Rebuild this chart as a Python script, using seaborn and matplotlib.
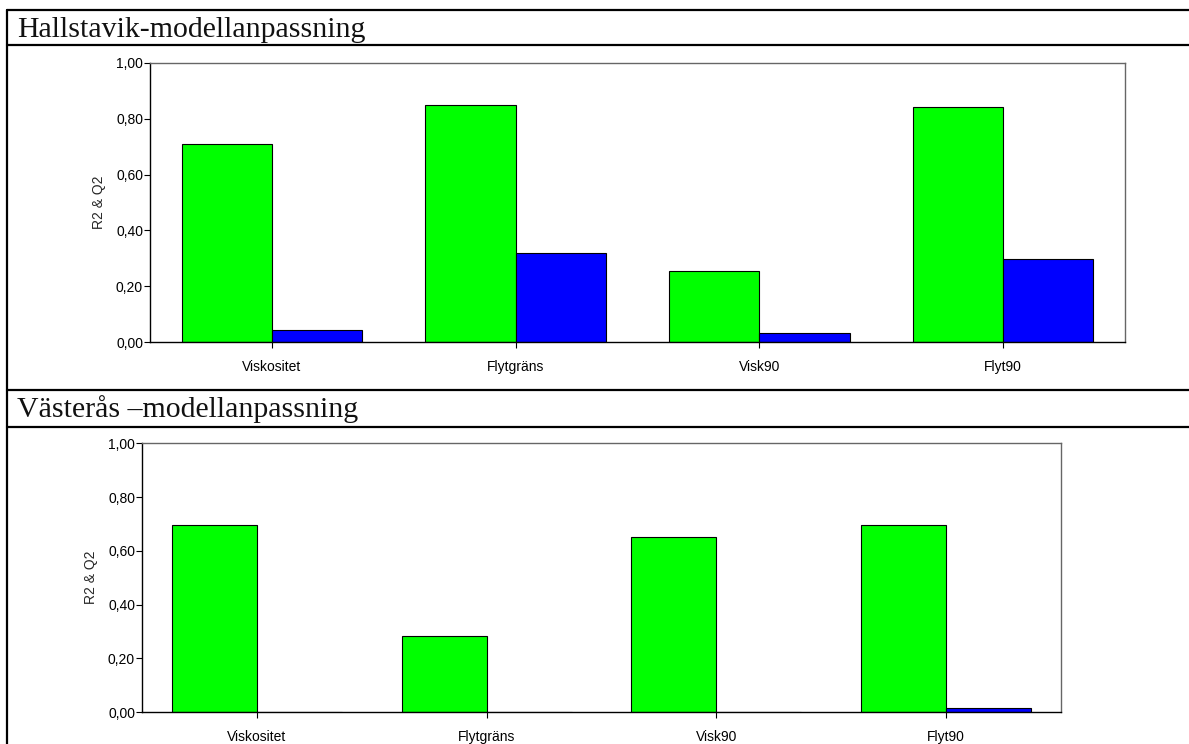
import matplotlib
matplotlib.use("Agg")
import matplotlib.pyplot as plt
from matplotlib.lines import Line2D
import pandas as pd
import seaborn as sns

# Model fit statistics (R2 = explained, Q2 = predicted) per response variable
categories = ["Viskositet", "Flytgräns", "Visk90", "Flyt90"]
series_names = ["R2", "Q2"]
hallstavik_r2 = [0.71, 0.85, 0.254, 0.841]
hallstavik_q2 = [0.043, 0.32, 0.031, 0.297]
vasteras_r2 = [0.696, 0.284, 0.652, 0.696]
vasteras_q2 = [0.0, 0.0, 0.0, 0.014]
yticks = [0.0, 0.2, 0.4, 0.6, 0.8, 1.0]
ytick_labels = ["0,00", "0,20", "0,40", "0,60", "0,80", "1,00"]
titles = ["Hallstavik-modellanpassning", "Västerås –modellanpassning"]
series_colors = {"R2": "#00ff00", "Q2": "#0000ff"}

sns.set_theme(style="white")
plt.rcParams["font.family"] = ["Liberation Sans", "DejaVu Sans"]

W, H = 1189, 744
fig = plt.figure(figsize=(W / 100, H / 100), dpi=100)
fig.patch.set_facecolor("white")


def long_frame(r2, q2):
    rows = []
    for cat, a, b in zip(categories, r2, q2):
        rows.append({"kategori": cat, "serie": series_names[0], "varde": a})
        rows.append({"kategori": cat, "serie": series_names[1], "varde": b})
    return pd.DataFrame(rows)


def px_axes(left, top, right, bottom):
    return fig.add_axes([left / W, 1 - bottom / H, (right - left) / W, (bottom - top) / H])


panels = [
    (px_axes(150, 63, 1125, 342), long_frame(hallstavik_r2, hallstavik_q2)),
    (px_axes(142, 443.3, 1061, 712), long_frame(vasteras_r2, vasteras_q2)),
]

for ax, df in panels:
    sns.barplot(data=df, x="kategori", y="varde", hue="serie", order=categories,
                hue_order=series_names, palette=series_colors, width=0.74,
                gap=0, edgecolor="black", linewidth=0.8, legend=False, ax=ax,
                errorbar=None, saturation=1)
    ax.set_xlim(-0.5, len(categories) - 0.5)
    ax.set_ylim(0, 1.0)
    ax.set_yticks(yticks)
    ax.set_yticklabels(ytick_labels, fontsize=10)
    ax.set_xlabel("")
    ax.set_ylabel("R2 & Q2", fontsize=10, labelpad=7)
    ax.tick_params(axis="x", direction="out", length=4, width=0.8, pad=9,
                   labelsize=10, colors="black", bottom=True)
    ax.tick_params(axis="y", direction="out", length=4, width=0.8, pad=1,
                   labelsize=10, colors="black", left=True)
    for side in ("left", "bottom"):
        ax.spines[side].set_color("black")
        ax.spines[side].set_linewidth(1.0)
    for side in ("top", "right"):
        ax.spines[side].set_color("#666666")
        ax.spines[side].set_linewidth(1.0)
    ax.set_facecolor("white")

# Table frame around the two panels
lw = 1.6
for y in (10, 45, 390, 427):
    fig.add_artist(Line2D([7 / W, 1.0], [1 - y / H, 1 - y / H], color="black",
                          linewidth=lw, transform=fig.transFigure))
fig.add_artist(Line2D([7 / W, 7 / W], [1 - 10 / H, 0.0], color="black",
                      linewidth=lw, transform=fig.transFigure))

# Section headings
for text, base in zip(titles, (37, 416.7)):
    fig.text(17 / W, 1 - base / H, text, fontsize=21.5, va="baseline", ha="left",
             family=["Liberation Serif", "DejaVu Serif"], color="#111111")

fig.savefig("out.png", dpi=100, facecolor="white")
